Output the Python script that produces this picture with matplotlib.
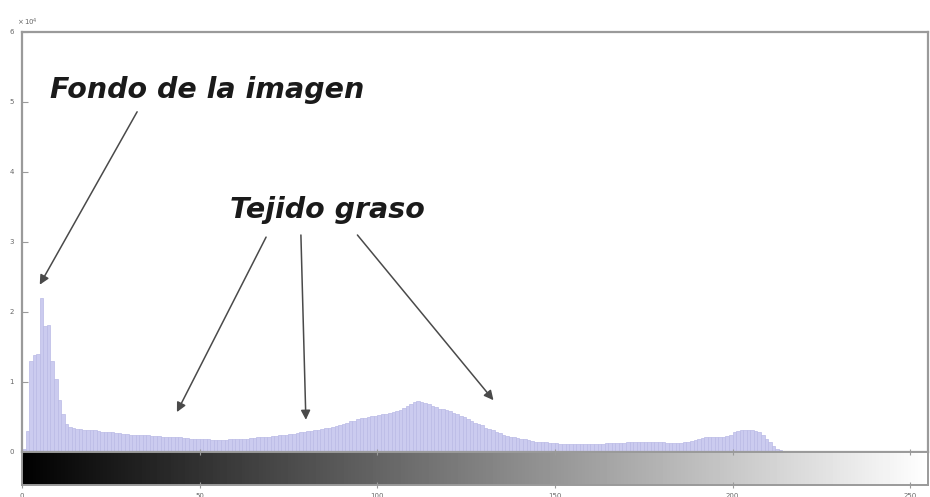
import numpy as np
from matplotlib import pyplot as plt

# histogram counts per grey level (x 10^4)
counts = [
    0.05, 0.30, 1.30, 1.38, 1.40, 2.20, 1.80, 1.82, 1.30, 1.05, 0.75, 0.55, 0.40, 0.36, 0.34, 0.33,
    0.33, 0.32, 0.32, 0.31, 0.31, 0.30, 0.29, 0.29, 0.28, 0.28, 0.27, 0.27, 0.26, 0.26, 0.25, 0.25,
    0.25, 0.24, 0.24, 0.24, 0.23, 0.23, 0.23, 0.22, 0.22, 0.22, 0.22, 0.21, 0.21, 0.20, 0.20, 0.19,
    0.19, 0.18, 0.18, 0.18, 0.18, 0.17, 0.17, 0.17, 0.17, 0.17, 0.18, 0.18, 0.18, 0.19, 0.19, 0.19,
    0.20, 0.20, 0.21, 0.21, 0.22, 0.22, 0.23, 0.23, 0.24, 0.24, 0.25, 0.26, 0.26, 0.27, 0.28, 0.29,
    0.30, 0.30, 0.31, 0.32, 0.33, 0.34, 0.35, 0.36, 0.37, 0.38, 0.40, 0.42, 0.44, 0.45, 0.47, 0.48,
    0.49, 0.50, 0.51, 0.52, 0.53, 0.54, 0.55, 0.56, 0.57, 0.58, 0.60, 0.63, 0.66, 0.69, 0.71, 0.73,
    0.72, 0.70, 0.68, 0.66, 0.64, 0.62, 0.61, 0.60, 0.58, 0.56, 0.54, 0.52, 0.50, 0.47, 0.44, 0.42,
    0.40, 0.38, 0.35, 0.33, 0.31, 0.29, 0.27, 0.25, 0.23, 0.22, 0.21, 0.20, 0.19, 0.18, 0.17, 0.16,
    0.15, 0.15, 0.14, 0.14, 0.13, 0.13, 0.13, 0.12, 0.12, 0.12, 0.12, 0.12, 0.12, 0.12, 0.12, 0.12,
    0.12, 0.12, 0.12, 0.12, 0.13, 0.13, 0.13, 0.13, 0.13, 0.13, 0.14, 0.14, 0.14, 0.14, 0.14, 0.14,
    0.14, 0.14, 0.14, 0.14, 0.14, 0.13, 0.13, 0.13, 0.13, 0.13, 0.14, 0.15, 0.16, 0.17, 0.19, 0.20,
    0.21, 0.21, 0.22, 0.22, 0.22, 0.22, 0.23, 0.25, 0.28, 0.30, 0.31, 0.31, 0.32, 0.31, 0.30, 0.28,
    0.24, 0.19, 0.14, 0.09, 0.05, 0.03, 0.02, 0.01, 0.01, 0.01, 0.00, 0.00, 0.00, 0.00, 0.00, 0.00,
    0.00, 0.00, 0.00, 0.00, 0.00, 0.00, 0.00, 0.00, 0.00, 0.00, 0.00, 0.00, 0.00, 0.00, 0.00, 0.00,
    0.00, 0.00, 0.00, 0.00, 0.00, 0.00, 0.00, 0.00, 0.00, 0.00, 0.00, 0.00, 0.00, 0.00, 0.00, 0.00,
]
levels = np.arange(len(counts))

x_ticks = [0, 50, 100, 150, 200, 250]
y_ticks = [0, 1, 2, 3, 4, 5, 6]

label_bg = "Fondo de la imagen"
label_fat = "Tejido graso"
# text positions and arrows (start, tip) in data units
bg_text = (7.8, 5.17)
bg_arrow = ((32.4, 4.86), (5.0, 2.39))
fat_text = (86, 3.46)
fat_arrows = [((68.7, 3.07), (43.6, 0.57)),
              ((78.5, 3.10), (79.9, 0.46)),
              ((94.4, 3.10), (132.7, 0.74))]

GRAY = '#9a9a9a'

fig = plt.figure(figsize=(9.30, 4.97), dpi=100)
ax = fig.add_axes([22/930, 45/497, 906/930, 420/497])
cb = fig.add_axes([22/930, 12/497, 906/930, 33/497])

ax.bar(levels, counts, width=1.0, align='edge', color='#cbcbef',
       edgecolor='#babae6', linewidth=0.5)
ax.set_xlim(0, 255)
ax.set_ylim(0, 6)
ax.set_xticks(x_ticks)
ax.set_xticklabels([])
ax.set_yticks(y_ticks)
ax.set_yticklabels([str(t) for t in y_ticks], fontsize=5, color='#666666')
ax.tick_params(direction='in', length=4, color=GRAY, pad=6)
ax.tick_params(axis='x', length=0)
for s in ax.spines.values():
    s.set_color(GRAY)
    s.set_linewidth(1.6)
ax.text(-0.005, 1.01, r'$\times\,10^4$', transform=ax.transAxes, fontsize=5,
        color='#666666', ha='left', va='bottom')

# grey level colorbar
gradient = np.linspace(0, 1, 256).reshape(1, -1)
cb.imshow(gradient, cmap='gray', aspect='auto', extent=[0, 255, 0, 1])
cb.set_xlim(0, 255)
cb.set_yticks([])
cb.set_xticks(x_ticks)
cb.set_xticklabels([str(t) for t in x_ticks], fontsize=5, color='#666666')
cb.tick_params(direction='inout', length=5, color=GRAY, top=True, pad=3)
for s in cb.spines.values():
    s.set_color(GRAY)
    s.set_linewidth(1.4)

arrow = dict(arrowstyle='-|>', color='#4a4a4a', lw=1.1, mutation_scale=14,
             shrinkA=0, shrinkB=0)
font = dict(fontsize=20.5, fontweight='bold', fontstyle='italic', family='DejaVu Sans',
            color='#1a1a1a')
ax.text(bg_text[0], bg_text[1], label_bg, ha='left', va='center', **font)
ax.annotate('', xy=bg_arrow[1], xytext=bg_arrow[0], arrowprops=arrow)
ax.text(fat_text[0], fat_text[1], label_fat, ha='center', va='center', **font)
for start, tip in fat_arrows:
    ax.annotate('', xy=tip, xytext=start, arrowprops=arrow)

plt.savefig('out.png', dpi=100)
